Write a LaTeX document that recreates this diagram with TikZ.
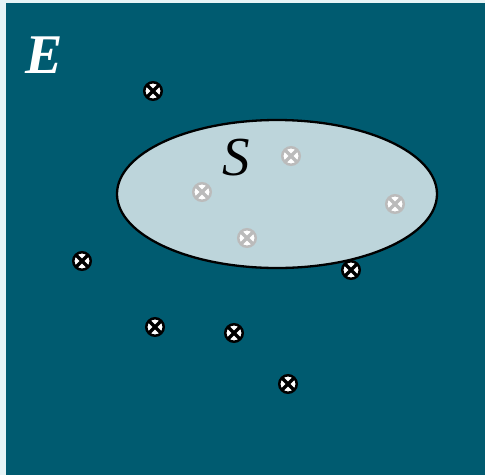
\documentclass[tikz,border=0pt]{standalone}
\usepackage{fontspec}
\setmainfont{Liberation Serif}
\usetikzlibrary{shapes.geometric}
\definecolor{bgteal}{HTML}{005B70}
\definecolor{sfill}{HTML}{BDD5DB}
\definecolor{edgecol}{HTML}{E6F4F6}
\definecolor{mgray}{HTML}{BBBBBB}
\tikzset{
  pt/.style={circle,draw=black,fill=white,line width=2.5pt,minimum size=17.5pt,inner sep=0pt,
    path picture={\draw[black,line width=3.2pt] (path picture bounding box.south west) -- (path picture bounding box.north east)
      (path picture bounding box.north west) -- (path picture bounding box.south east);}},
  gpt/.style={circle,draw=mgray,fill=white,line width=2.5pt,minimum size=17.5pt,inner sep=0pt,
    path picture={\draw[mgray,line width=3.2pt] (path picture bounding box.south west) -- (path picture bounding box.north east)
      (path picture bounding box.north west) -- (path picture bounding box.south east);}},
}
\begin{document}
\begin{tikzpicture}[x=1pt,y=-1pt]
\useasboundingbox (0,0) rectangle (485,475);
\fill[edgecol] (0,0) rectangle (485,475);
\fill[bgteal] (6,3) rectangle (485,475);
\node[ellipse, draw=black, fill=sfill, line width=2.3pt, minimum width=320pt, minimum height=148pt, inner sep=0pt] (S) at (277,194) {};
\node[text=white, font=\fontsize{56}{56}\selectfont\bfseries\itshape] (E) at (44,55) {E};
\node[text=black, font=\fontsize{55}{55}\selectfont\itshape] (Slabel) at (236,158) {S};
\node[pt] (p1) at (153,91) {};
\node[pt] (p2) at (82,261) {};
\node[pt] (p3) at (351,270) {};
\node[pt] (p4) at (155,327) {};
\node[pt] (p5) at (234,333) {};
\node[pt] (p6) at (288,384) {};
\node[gpt] (g1) at (291,156) {};
\node[gpt] (g2) at (202,192) {};
\node[gpt] (g3) at (395,204) {};
\node[gpt] (g4) at (247,238) {};
\end{tikzpicture}
\end{document}
